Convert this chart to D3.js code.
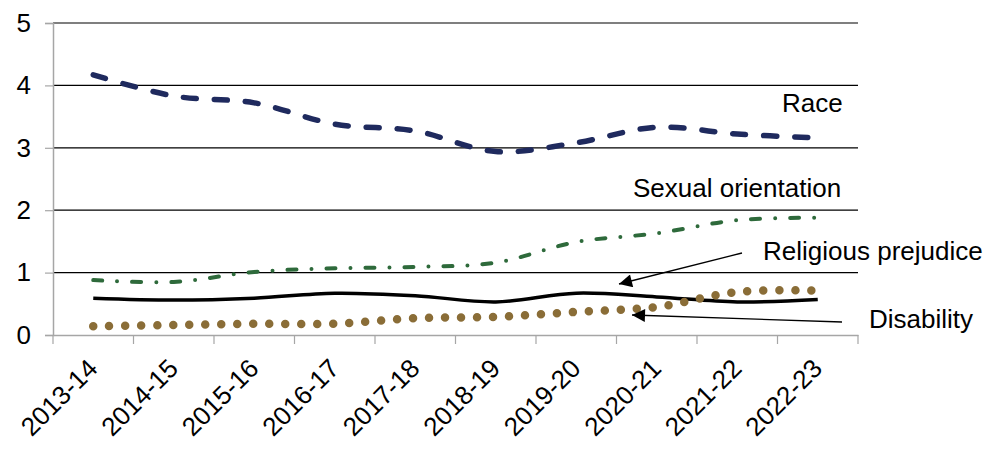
<!DOCTYPE html>
<html lang="en">
<head>
<meta charset="UTF-8">
<title>Hate crime by strand</title>
<script src="https://d3js.org/d3.v7.min.js"></script>
<style>
  body { margin: 0; background: #fff; }
  text { font-family: "Liberation Sans", Arial, sans-serif; fill: #000; }
</style>
</head>
<body>
<div id="chart"></div>
<script>
// data
const years = ["2013-14", "2014-15", "2015-16", "2016-17", "2017-18", "2018-19", "2019-20", "2020-21", "2021-22", "2022-23"];
const race = [4.17, 3.83, 3.72, 3.38, 3.27, 2.94, 3.08, 3.33, 3.22, 3.16];
const sexualOrientation = [0.88, 0.85, 1.01, 1.07, 1.09, 1.16, 1.49, 1.63, 1.84, 1.88];
const religious = [0.59, 0.56, 0.59, 0.67, 0.63, 0.53, 0.67, 0.61, 0.53, 0.57];
const disability = [0.14, 0.16, 0.18, 0.18, 0.27, 0.29, 0.37, 0.45, 0.69, 0.71];
const yTicks = [0, 1, 2, 3, 4, 5];

const width = 1006, height = 460;
const margin = { top: 23, right: 148, bottom: 125, left: 53 };

const svg = d3.select("#chart").append("svg")
    .attr("width", width)
    .attr("height", height);

const x = d3.scaleBand()
    .domain(years)
    .range([margin.left, width - margin.right]);

const y = d3.scaleLinear()
    .domain([0, 5])
    .range([height - margin.bottom, margin.top]);

// gridlines
svg.append("g")
    .selectAll("line")
    .data(yTicks.filter(d => d > 0))
    .join("line")
    .attr("x1", margin.left)
    .attr("x2", width - margin.right)
    .attr("y1", d => y(d))
    .attr("y2", d => y(d))
    .attr("stroke", "#000")
    .attr("stroke-width", 1.2);

// y axis
const yAxis = svg.append("g")
    .attr("transform", `translate(${margin.left},0)`)
    .call(d3.axisLeft(y).tickValues(yTicks).tickSize(8).tickPadding(14).tickFormat(d3.format("d")));
yAxis.select(".domain").attr("stroke", "#a6a6a6").attr("stroke-width", 1.5);
yAxis.selectAll(".tick line").attr("stroke", "#a6a6a6").attr("stroke-width", 1.2);
yAxis.selectAll("text").attr("font-size", 26).attr("font-family", "Liberation Sans, Arial, sans-serif");

// x axis
const xAxis = svg.append("g")
    .attr("transform", `translate(0,${y(0)})`)
    .call(d3.axisBottom(x).tickSize(0).tickFormat(""));
xAxis.select(".domain").attr("stroke", "#a6a6a6").attr("stroke-width", 1.5);

// band boundary ticks
svg.append("g")
    .selectAll("line")
    .data(years.concat(["end"]))
    .join("line")
    .attr("x1", (d, i) => margin.left + i * x.bandwidth())
    .attr("x2", (d, i) => margin.left + i * x.bandwidth())
    .attr("y1", y(0))
    .attr("y2", y(0) + 9)
    .attr("stroke", "#a6a6a6")
    .attr("stroke-width", 1.2);

// rotated category labels
svg.append("g")
    .selectAll("text")
    .data(years)
    .join("text")
    .attr("transform", d => `translate(${x(d) + x.bandwidth() / 2 + 6},${y(0) + 35}) rotate(-45)`)
    .attr("text-anchor", "end")
    .attr("font-size", 26)
    .text(d => d);

const cx = d => x(d) + x.bandwidth() / 2;
const line = d3.line()
    .x((d, i) => cx(years[i]))
    .y(d => y(d))
    .curve(d3.curveCatmullRom);

// series
svg.append("path").datum(race)
    .attr("d", line).attr("fill", "none")
    .attr("stroke", "#1f2a5e").attr("stroke-width", 5.5)
    .attr("stroke-linecap", "round")
    .attr("stroke-dasharray", "13 18");

svg.append("path").datum(sexualOrientation)
    .attr("d", line).attr("fill", "none")
    .attr("stroke", "#2e6a3b").attr("stroke-width", 4)
    .attr("stroke-linecap", "round")
    .attr("stroke-dasharray", "9 15 0 15");

svg.append("path").datum(religious)
    .attr("d", line).attr("fill", "none")
    .attr("stroke", "#000").attr("stroke-width", 3.5);

svg.append("path").datum(disability)
    .attr("d", line).attr("fill", "none")
    .attr("stroke", "#8a6d37").attr("stroke-width", 8.5)
    .attr("stroke-linecap", "round")
    .attr("stroke-dasharray", "0 16");

// labels and arrows
svg.append("defs").append("marker")
    .attr("id", "arrow")
    .attr("viewBox", "0 0 10 10")
    .attr("refX", 10).attr("refY", 5)
    .attr("markerWidth", 16).attr("markerHeight", 13)
    .attr("markerUnits", "userSpaceOnUse")
    .attr("orient", "auto")
    .append("path")
    .attr("d", "M0,0 L10,5 L0,10 Z")
    .attr("fill", "#000");

const labels = [
    { text: "Race", x: 782, y: 112 },
    { text: "Sexual orientation", x: 633, y: 197 },
    { text: "Religious prejudice", x: 763, y: 260 },
    { text: "Disability", x: 869, y: 328 }
];
svg.append("g").selectAll("text")
    .data(labels)
    .join("text")
    .attr("x", d => d.x)
    .attr("y", d => d.y)
    .attr("font-size", 26)
    .text(d => d.text);

svg.append("line")
    .attr("x1", 742).attr("y1", 253).attr("x2", 619).attr("y2", 284)
    .attr("stroke", "#000").attr("stroke-width", 1.3)
    .attr("marker-end", "url(#arrow)");
svg.append("line")
    .attr("x1", 842).attr("y1", 322).attr("x2", 632).attr("y2", 315)
    .attr("stroke", "#000").attr("stroke-width", 1.3)
    .attr("marker-end", "url(#arrow)");
</script>
</body>
</html>
